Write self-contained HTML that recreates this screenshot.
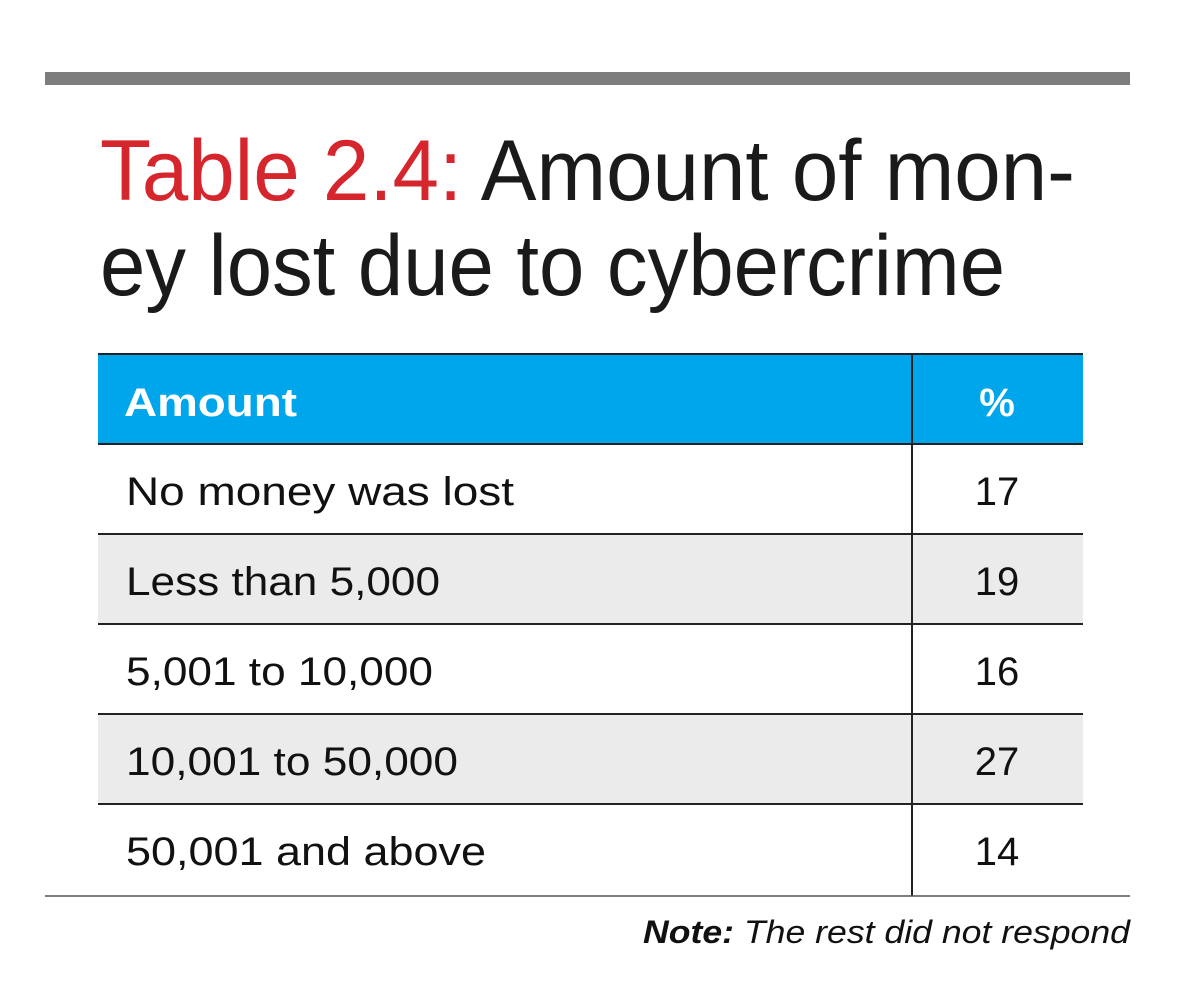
<!DOCTYPE html>
<html><head><meta charset="utf-8"><style>html,body{margin:0;padding:0;background:#fff}svg{display:block}</style></head>
<body>
<svg width="1200" height="998" viewBox="0 0 1200 998" xmlns="http://www.w3.org/2000/svg" font-family="Liberation Sans, sans-serif">
<rect x="0" y="0" width="1200" height="998" fill="#fff"/>
<rect x="45" y="72" width="1085" height="13" fill="#7d7d7d"/>
<text x="100" y="200" font-size="86" fill="#1a1a1a" textLength="975" lengthAdjust="spacingAndGlyphs"><tspan fill="#d6262d">Table 2.4:</tspan> Amount of mon-</text>
<text x="100" y="295" font-size="86" fill="#1a1a1a" textLength="905" lengthAdjust="spacingAndGlyphs">ey lost due to cybercrime</text>
<rect x="98" y="353" width="985" height="91" fill="#00a6ec"/>
<rect x="98" y="533" width="985" height="90" fill="#ebebeb"/>
<rect x="98" y="713" width="985" height="90" fill="#ebebeb"/>
<g stroke="#222" stroke-width="2">
<line x1="98" y1="354" x2="1083" y2="354"/>
<line x1="98" y1="444" x2="1083" y2="444"/>
<line x1="98" y1="534" x2="1083" y2="534"/>
<line x1="98" y1="624" x2="1083" y2="624"/>
<line x1="98" y1="714" x2="1083" y2="714"/>
<line x1="98" y1="804" x2="1083" y2="804"/>
<line x1="912" y1="353" x2="912" y2="896"/>
</g>
<line x1="45" y1="896" x2="1130" y2="896" stroke="#555" stroke-width="1.5"/>
<text x="124" y="416" font-size="40" font-weight="bold" fill="#fff" textLength="173" lengthAdjust="spacingAndGlyphs">Amount</text>
<text x="997" y="416" font-size="40" font-weight="bold" fill="#fff" text-anchor="middle">%</text>
<g font-size="40" fill="#111">
<text x="126" y="505" textLength="388" lengthAdjust="spacingAndGlyphs">No money was lost</text>
<text x="126" y="595" textLength="314" lengthAdjust="spacingAndGlyphs">Less than 5,000</text>
<text x="126" y="685" textLength="307" lengthAdjust="spacingAndGlyphs">5,001 to 10,000</text>
<text x="126" y="775" textLength="332" lengthAdjust="spacingAndGlyphs">10,001 to 50,000</text>
<text x="126" y="865" textLength="360" lengthAdjust="spacingAndGlyphs">50,001 and above</text>
<g text-anchor="middle">
<text x="997" y="505">17</text>
<text x="997" y="595">19</text>
<text x="997" y="685">16</text>
<text x="997" y="775">27</text>
<text x="997" y="865">14</text>
</g>
</g>
<text x="643" y="943" font-size="32" font-style="italic" fill="#111" textLength="487" lengthAdjust="spacingAndGlyphs"><tspan font-weight="bold">Note:</tspan> The rest did not respond</text>
</svg>
</body></html>
